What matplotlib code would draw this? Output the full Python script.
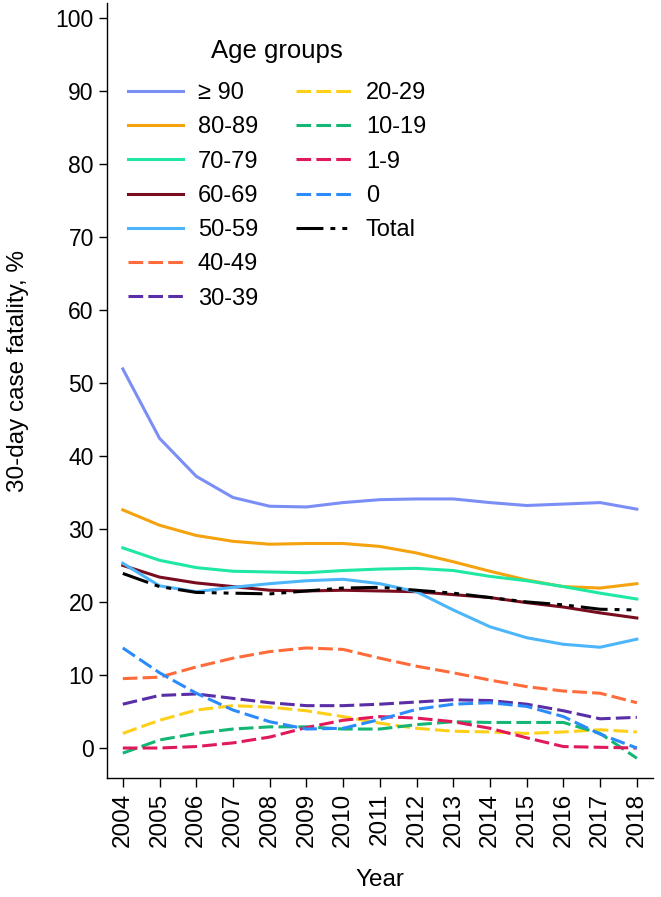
import matplotlib
matplotlib.use("Agg")
import matplotlib.pyplot as plt
from matplotlib.lines import Line2D

# 30-day case fatality (%) by age group
years = list(range(2004, 2019))

ge90 = [51.9, 42.4, 37.2, 34.3, 33.1, 33.0, 33.6, 34.0, 34.1, 34.1, 33.6, 33.2, 33.4, 33.6, 32.7]
a80_89 = [32.6, 30.5, 29.1, 28.3, 27.9, 28.0, 28.0, 27.6, 26.7, 25.5, 24.2, 23.0, 22.1, 21.9, 22.5]
a70_79 = [27.4, 25.7, 24.7, 24.2, 24.1, 24.0, 24.3, 24.5, 24.6, 24.3, 23.5, 22.9, 22.1, 21.2, 20.4]
a60_69 = [25.0, 23.4, 22.6, 22.1, 21.6, 21.5, 21.6, 21.5, 21.4, 21.0, 20.6, 19.9, 19.3, 18.5, 17.8]
a50_59 = [25.3, 22.2, 21.4, 22.0, 22.5, 22.9, 23.1, 22.5, 21.4, 18.9, 16.6, 15.1, 14.2, 13.8, 14.9]
a40_49 = [9.5, 9.7, 11.1, 12.3, 13.2, 13.7, 13.5, 12.3, 11.2, 10.3, 9.3, 8.4, 7.8, 7.5, 6.2]
a30_39 = [6.0, 7.2, 7.4, 6.8, 6.2, 5.8, 5.8, 6.0, 6.3, 6.6, 6.5, 6.0, 5.1, 4.0, 4.2]
a20_29 = [2.0, 3.8, 5.2, 5.8, 5.6, 5.1, 4.3, 3.4, 2.7, 2.3, 2.2, 2.0, 2.2, 2.5, 2.2]
a10_19 = [-0.7, 1.1, 2.0, 2.6, 2.9, 2.9, 2.6, 2.6, 3.2, 3.6, 3.5, 3.5, 3.5, 2.0, -1.4]
a1_9 = [0.0, 0.0, 0.2, 0.7, 1.5, 2.8, 3.8, 4.3, 4.1, 3.6, 2.7, 1.4, 0.2, 0.1, 0.0]
a0 = [13.7, 10.3, 7.5, 5.2, 3.6, 2.6, 2.7, 3.9, 5.3, 6.0, 6.2, 5.7, 4.3, 1.9, 0.0]
total = [23.9, 22.1, 21.3, 21.2, 21.1, 21.5, 21.9, 22.0, 21.6, 21.2, 20.6, 20.0, 19.6, 19.0, 18.9]

labels = ["\u2265 90", "80-89", "70-79", "60-69", "50-59", "40-49", "30-39",
          "20-29", "10-19", "1-9", "0"]
series = [ge90, a80_89, a70_79, a60_69, a50_59, a40_49, a30_39,
          a20_29, a10_19, a1_9, a0]
colors = ["#7b8ef6", "#f5a20f", "#1fe8a2", "#7a0c20", "#4db6fb", "#ff6b3a",
          "#5a2ea6", "#fecf17", "#14b673", "#e0195b", "#2b8bfb"]


def draw():
    plt.rcParams["font.family"] = ["Liberation Sans", "DejaVu Sans"]
    fig = plt.figure(figsize=(6.61, 8.97), dpi=100)
    ax = fig.add_axes([0.1619, 0.1327, 0.826, 0.864])

    lw = 2.2
    for i, (lab, ys, c) in enumerate(zip(labels, series, colors)):
        ls = "-" if i < 5 else (0, (4.8, 1.7))
        ax.plot(years, ys, color=c, lw=lw, linestyle=ls, label=lab)
    ax.plot(years, total, color="black", lw=lw,
            linestyle=(0, (8.8, 2.3, 1.6, 2.3, 1.6, 2.3)), label="Total")
    # blank entry so the first legend column holds seven rows
    ax.add_line(Line2D([], [], color="none", label=" "))

    ax.set_xlim(2003.57, 2018.44)
    ax.set_ylim(-4.1, 102)
    ax.set_xticks(years)
    ax.set_xticklabels([str(y) for y in years], rotation=90)
    ax.set_yticks(range(0, 101, 10))
    ax.tick_params(axis="y", labelsize=16.5, length=5.5, width=1, pad=4)
    ax.tick_params(axis="x", labelsize=17.5, length=6.5, width=1, pad=4)
    for s in ["top", "right"]:
        ax.spines[s].set_visible(False)
    for s in ["left", "bottom"]:
        ax.spines[s].set_linewidth(1)

    ax.set_ylabel("30-day case fatality, %", fontsize=17.5)
    ax.yaxis.set_label_coords(-0.142, 0.525)
    ax.set_xlabel("Year", fontsize=17.5)
    ax.xaxis.set_label_coords(0.5, -0.118)

    leg = ax.legend(ncol=2, loc="upper left", bbox_to_anchor=(0.039, 0.954),
                    frameon=False, fontsize=17, title="Age groups",
                    title_fontsize=18.5, handlelength=2.33, handletextpad=0.62,
                    columnspacing=1.6, labelspacing=0.52, borderpad=0,
                    borderaxespad=0)
    leg._legend_box.sep = 14

    fig.savefig("out.png", dpi=100)


if __name__ == '__main__':
    draw()
